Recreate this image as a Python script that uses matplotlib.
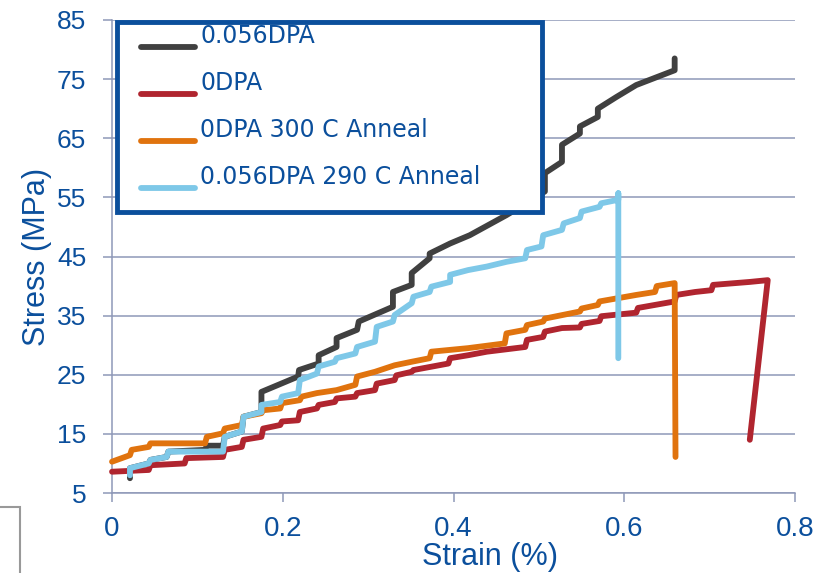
import matplotlib
matplotlib.use("Agg")
import matplotlib.pyplot as plt
from matplotlib.patches import Rectangle

# strain (%) / stress (MPa)
strain_056 = [0.021, 0.021, 0.043, 0.045, 0.064, 0.066, 0.109, 0.111, 0.130, 0.132, 0.152, 0.154,
              0.175, 0.175, 0.218, 0.219, 0.242, 0.242, 0.263, 0.263, 0.287, 0.289, 0.329, 0.329,
              0.351, 0.351, 0.372, 0.372, 0.396, 0.419, 0.462, 0.485, 0.507, 0.507, 0.527, 0.527,
              0.548, 0.548, 0.569, 0.569, 0.591, 0.614, 0.659, 0.659]
stress_056 = [7.5, 9.2, 10.0, 10.6, 11.1, 12.0, 12.3, 13.0, 13.0, 14.5, 15.4, 17.9,
              18.7, 22.1, 24.7, 25.8, 26.9, 28.3, 29.7, 31.2, 32.6, 34.0, 36.5, 39.0,
              40.2, 42.2, 44.7, 45.5, 47.2, 48.6, 52.0, 54.0, 56.0, 59.1, 61.0, 63.9,
              65.8, 67.0, 68.6, 70.0, 72.0, 74.0, 76.5, 78.5]

strain_0 = [0.0, 0.043, 0.045, 0.085, 0.087, 0.130, 0.132, 0.152, 0.154, 0.175, 0.177, 0.197,
            0.199, 0.218, 0.220, 0.240, 0.242, 0.261, 0.263, 0.285, 0.287, 0.308, 0.310, 0.331,
            0.333, 0.351, 0.353, 0.394, 0.396, 0.417, 0.439, 0.484, 0.486, 0.505, 0.507, 0.527,
            0.548, 0.550, 0.571, 0.573, 0.614, 0.616, 0.659, 0.661, 0.683, 0.702, 0.704, 0.747,
            0.768, 0.747]
stress_0 = [8.6, 8.9, 9.7, 10.0, 10.9, 11.1, 12.3, 12.8, 14.0, 14.5, 15.9, 16.5,
            17.1, 17.3, 18.7, 19.3, 19.9, 20.4, 21.0, 21.3, 21.9, 22.4, 23.5, 24.1,
            24.9, 25.5, 25.8, 26.9, 27.8, 28.3, 28.9, 29.7, 30.9, 31.4, 32.3, 32.9,
            33.0, 33.6, 34.1, 34.9, 35.5, 36.3, 37.4, 38.5, 39.0, 39.3, 40.2, 40.7,
            41.0, 14.0]

strain_0_ann = [0.0, 0.021, 0.023, 0.043, 0.045, 0.109, 0.111, 0.130, 0.132, 0.152, 0.154, 0.175,
                0.177, 0.197, 0.199, 0.220, 0.222, 0.240, 0.263, 0.285, 0.287, 0.308, 0.331, 0.351,
                0.372, 0.374, 0.417, 0.460, 0.462, 0.484, 0.486, 0.505, 0.507, 0.548, 0.550, 0.569,
                0.571, 0.614, 0.636, 0.638, 0.659, 0.660]
stress_0_ann = [10.3, 11.4, 12.3, 12.8, 13.4, 13.4, 14.5, 15.1, 15.9, 16.5, 17.9, 18.5,
                19.0, 19.3, 20.2, 20.7, 21.3, 21.9, 22.4, 23.3, 24.7, 25.5, 26.6, 27.2,
                27.8, 28.9, 29.5, 30.3, 32.0, 32.6, 33.4, 34.0, 34.5, 35.7, 36.2, 36.8,
                37.4, 38.5, 39.0, 40.0, 40.5, 11.1]

strain_056_ann = [0.021, 0.021, 0.043, 0.045, 0.064, 0.066, 0.130, 0.132, 0.152, 0.154, 0.175, 0.175,
                  0.197, 0.199, 0.218, 0.220, 0.240, 0.242, 0.261, 0.263, 0.285, 0.287, 0.308, 0.310,
                  0.329, 0.331, 0.351, 0.353, 0.372, 0.374, 0.396, 0.396, 0.417, 0.439, 0.462, 0.484,
                  0.486, 0.503, 0.505, 0.527, 0.529, 0.548, 0.550, 0.571, 0.573, 0.593, 0.593, 0.593]
stress_056_ann = [8.0, 9.2, 10.0, 10.6, 11.1, 12.0, 12.0, 14.5, 15.4, 17.9, 18.7, 19.9,
                  20.4, 21.3, 21.9, 24.1, 25.2, 26.4, 27.2, 27.8, 28.6, 29.7, 30.6, 33.1,
                  34.0, 35.1, 37.1, 38.2, 39.0, 39.9, 40.7, 41.9, 42.7, 43.3, 44.1, 44.7,
                  46.1, 46.7, 48.6, 49.5, 50.6, 51.5, 52.6, 53.4, 54.0, 54.6, 55.7, 27.8]

labels = ['0.056DPA', '0DPA', '0DPA 300 C Anneal', '0.056DPA 290 C Anneal']
colors = ['#404040', '#B0252F', '#E0730E', '#7EC8E8']
y_ticks = [5, 15, 25, 35, 45, 55, 65, 75, 85]
x_ticks = [0, 0.2, 0.4, 0.6, 0.8]
x_tick_labels = ['0', '0.2', '0.4', '0.6', '0.8']

BLUE = '#0B4F9C'
GRID = '#8E98B8'

plt.rcParams['font.family'] = ['Liberation Sans', 'DejaVu Sans']

fig = plt.figure(figsize=(8.28, 5.73), dpi=100)
ax = fig.add_axes([0.1353, 0.1396, 0.8249, 0.8255])

series = [(strain_056, stress_056), (strain_0, stress_0),
          (strain_0_ann, stress_0_ann), (strain_056_ann, stress_056_ann)]
for (xs, ys), c in zip(series, colors):
    ax.plot(xs, ys, color=c, lw=4.2, solid_capstyle='round', zorder=3, clip_on=False)

ax.set_xlim(0, 0.8)
ax.set_ylim(5, 85)
ax.set_yticks(y_ticks)
ax.set_xticks(x_ticks)
ax.set_xticklabels(x_tick_labels)
ax.yaxis.grid(True, color=GRID, lw=1.1)
ax.set_axisbelow(True)
for s in ['top', 'right']:
    ax.spines[s].set_visible(False)
for s in ['left', 'bottom']:
    ax.spines[s].set_color(GRID)
    ax.spines[s].set_linewidth(1.1)
ax.tick_params(axis='both', colors=GRID, width=1.1, length=6.5, labelcolor=BLUE)
ax.tick_params(axis='y', labelsize=19, pad=12)
ax.tick_params(axis='x', labelsize=20, pad=10)

ax.set_xlabel('Strain (%)', fontsize=22, color=BLUE, va='top')
ax.xaxis.set_label_coords(0.553, -0.103)
ax.set_ylabel('Stress (MPa)', fontsize=22, color=BLUE, va='center')
ax.yaxis.set_label_coords(-0.11, 0.5)

# legend box drawn by hand to match the reference layout
ax.add_patch(Rectangle((0.0073, 0.594), 0.6223, 0.4018, transform=ax.transAxes,
                       facecolor='white', edgecolor=BLUE, lw=3.5, zorder=5, clip_on=False))
rows = [0.943, 0.8436, 0.744, 0.645]
for lab, c, yy in zip(labels, colors, rows):
    ax.plot([0.0425, 0.1215], [yy, yy], color=c, lw=4.2, solid_capstyle='round',
            transform=ax.transAxes, zorder=6, clip_on=False)
    ax.text(0.129, yy + 0.009, lab, transform=ax.transAxes, fontsize=17, color=BLUE,
            family='DejaVu Sans', va='baseline', ha='left', zorder=6)

# stray frame fragment in the bottom-left corner of the reference
fig.patches.append(Rectangle((-0.05, -0.05), 0.074, 0.165, transform=fig.transFigure,
                             facecolor='none', edgecolor='#999999', lw=1.5))

fig.savefig('out.png', dpi=100)
